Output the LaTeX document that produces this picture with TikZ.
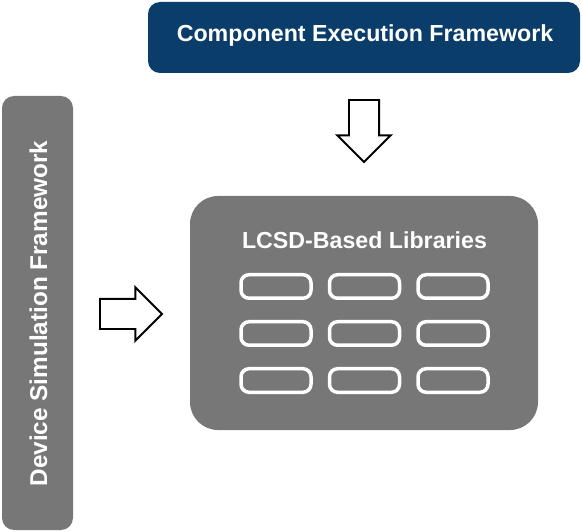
\documentclass[tikz,border=0pt]{standalone}
\usepackage{fontspec}
\setmainfont{Liberation Sans}
\usetikzlibrary{positioning,shapes.arrows}
\definecolor{cefblue}{HTML}{0B3D6B}
\definecolor{panelgray}{HTML}{777777}

\begin{document}
\begin{tikzpicture}[
  x=1pt, y=-1pt,
  node distance=23.5pt and 18.5pt,
  panel/.style={rounded corners=12pt, inner sep=0pt, outer sep=0pt},
  boxtext/.style={text=white, font=\fontsize{23.2}{27}\selectfont\bfseries,
    inner sep=0pt},
  lib/.style={draw=white, line width=3.5pt, rounded corners=8pt,
    minimum width=70pt, minimum height=23.5pt, inner sep=0pt, outer sep=0pt},
  blockarrow/.style={draw, line width=1.8pt, fill=white, single arrow,
    single arrow head extend=11.5pt, minimum height=62pt,
    inner xsep=0pt, inner ysep=14.2pt, outer sep=0pt}
]
\useasboundingbox (0,0) rectangle (582,532);

\node[panel, fill=cefblue, minimum width=432pt, minimum height=71pt] (cef) at (364,37.5) {};
\node[boxtext, anchor=base] (ceftext) at (365,42) {Component Execution Framework};

\node[panel, fill=panelgray, minimum width=71pt, minimum height=434pt] (dsf) at (37.5,313) {};
\node[boxtext, font=\fontsize{24.3}{28}\selectfont\bfseries, rotate=90, anchor=base]
  (dsftext) at (47,313.5) {Device Simulation Framework};

\node[panel, fill=panelgray, rounded corners=28pt, minimum width=348pt,
  minimum height=234pt] (lcsd) at (364,313) {};
\node[boxtext, anchor=base] (lcsdtext) at (364.5,249) {LCSD-Based Libraries};

\node[lib] (lib11) at (276,286.5) {};
\node[lib, right=of lib11] (lib12) {};
\node[lib, right=of lib12] (lib13) {};
\node[lib, below=of lib11] (lib21) {};
\node[lib, right=of lib21] (lib22) {};
\node[lib, right=of lib22] (lib23) {};
\node[lib, below=of lib21] (lib31) {};
\node[lib, right=of lib31] (lib32) {};
\node[lib, right=of lib32] (lib33) {};

\node[blockarrow, rotate=-90, anchor=tip] (downarrow) at (364,162) {};
\node[blockarrow, anchor=tip] (rightarrow) at (162,314) {};
\end{tikzpicture}
\end{document}
